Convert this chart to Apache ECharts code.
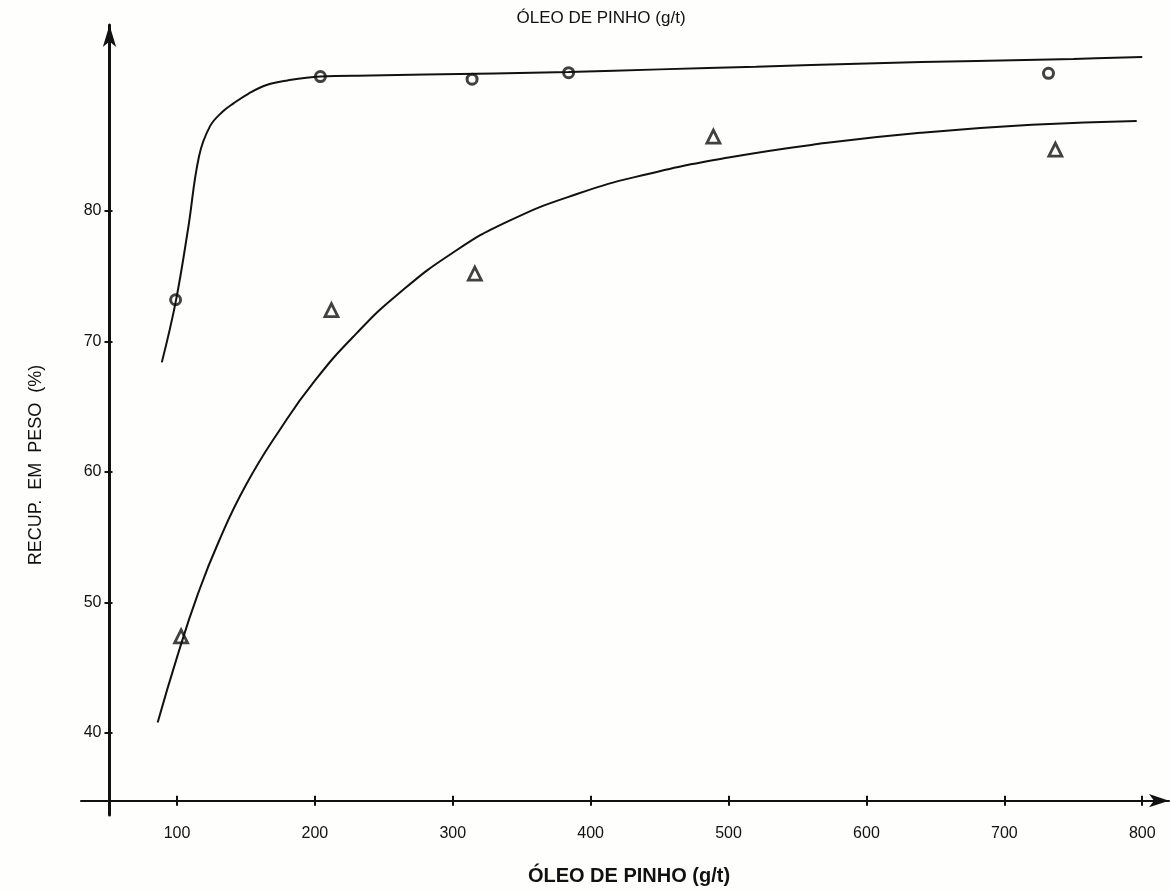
<!DOCTYPE html>
<html>
<head>
<meta charset="utf-8">
<script src="https://cdn.jsdelivr.net/npm/echarts@6/dist/echarts.min.js"></script>
<style>
  html, body { margin: 0; padding: 0; background: #fefefc; }
  #chart { width: 1170px; height: 892px; }
</style>
</head>
<body>
<div id="chart"></div>
<script>
// tick labels
var xTicks = [100, 200, 300, 400, 500, 600, 700, 800];
var yTicks = [40, 50, 60, 70, 80];

// pontos medidos
var circlePts = [[99, 73.2], [204, 90.3], [314, 90.1], [384, 90.6], [732, 90.55]];
var trianglePts = [[103, 47.4], [212, 72.4], [316, 75.2], [489, 85.7], [737, 84.7]];

// curvas tracadas a mao
var upperCurve = [[89, 68.4], [99, 73.0], [108, 78.6], [116, 84.2], [124, 86.5], [133, 87.6], [141, 88.25],
  [152, 89.0], [165, 89.65], [180, 90.0], [204, 90.3], [240, 90.38], [280, 90.45], [330, 90.53],
  [384, 90.65], [450, 90.85], [520, 91.05], [600, 91.3], [680, 91.5], [750, 91.65], [800, 91.8]];
var lowerCurve = [[86, 40.8], [100, 45.8], [115, 50.6], [130, 54.6], [150, 59.0], [175, 63.3], [200, 67.0],
  [230, 70.6], [260, 73.6], [300, 76.8], [340, 79.2], [390, 81.3], [440, 82.8], [500, 84.1],
  [570, 85.2], [640, 86.0], [720, 86.6], [796, 86.9]];

var font = '"Liberation Sans", Arial, sans-serif';
var chart = echarts.init(document.getElementById('chart'));

var option = {
  backgroundColor: '#fefefc',
  animation: false,
  grid: { left: 81, right: 1, top: 25, bottom: 77 },
  xAxis: [
    {
      type: 'value', position: 'bottom', min: 30.4, max: 819.4, offset: -14.3,
      splitLine: { show: false },
      axisLine: { show: true, symbol: ['none', 'arrow'], symbolSize: [10, 20], lineStyle: { color: '#111', width: 2 } },
      axisTick: { show: true, customValues: xTicks, length: 5, lineStyle: { color: '#111', width: 2 } },
      axisLabel: { customValues: xTicks, margin: 25, color: '#111', fontSize: 16, fontFamily: font }
    },
    {
      type: 'value', position: 'bottom', min: 30.4, max: 819.4, offset: -14.3,
      splitLine: { show: false },
      axisLine: { show: false },
      axisTick: { show: true, inside: true, customValues: xTicks, length: 5, lineStyle: { color: '#111', width: 2 } },
      axisLabel: { show: false }
    }
  ],
  yAxis: [
    {
      type: 'value', position: 'left', min: 33.72, max: 94.25, offset: -28.5,
      splitLine: { show: false },
      axisLine: { show: true, symbol: ['none', 'arrow'], symbolSize: [10, 22], lineStyle: { color: '#111', width: 3 } },
      axisTick: { show: true, customValues: yTicks, length: 5, lineStyle: { color: '#111', width: 2 } },
      axisLabel: { customValues: yTicks, margin: 8, color: '#111', fontSize: 16, fontFamily: font }
    },
    {
      type: 'value', position: 'left', min: 33.72, max: 94.25, offset: -28.5,
      splitLine: { show: false },
      axisLine: { show: false },
      axisTick: { show: true, inside: true, customValues: yTicks, length: 3, lineStyle: { color: '#111', width: 2 } },
      axisLabel: { show: false }
    }
  ],
  graphic: [
    {
      type: 'text', x: 601, y: 18,
      style: { text: 'ÓLEO DE PINHO (g/t)', align: 'center', verticalAlign: 'middle', fill: '#111', font: '17px ' + font }
    },
    {
      type: 'text', x: 629, y: 876,
      style: { text: 'ÓLEO DE PINHO (g/t)', align: 'center', verticalAlign: 'middle', fill: '#111', font: 'bold 20px ' + font }
    },
    {
      type: 'text', x: 36, y: 465, rotation: Math.PI / 2,
      style: { text: 'RECUP.  EM  PESO  (%)', align: 'center', verticalAlign: 'middle', fill: '#111', font: '18px ' + font }
    }
  ],
  series: [
    {
      type: 'line', data: upperCurve, showSymbol: false, smooth: 0.4,
      lineStyle: { color: '#111', width: 2 }
    },
    {
      type: 'line', data: lowerCurve, showSymbol: false, smooth: 0.5,
      lineStyle: { color: '#111', width: 2 }
    },
    {
      type: 'scatter', data: circlePts, symbol: 'circle', symbolSize: 10,
      itemStyle: { color: '#fefefc', borderColor: '#111', borderWidth: 3 }
    },
    {
      type: 'scatter', data: trianglePts, symbol: 'triangle', symbolSize: 13,
      itemStyle: { color: '#fefefc', borderColor: '#111', borderWidth: 2.8 }
    }
  ]
};
chart.setOption(option);
</script>
</body>
</html>
